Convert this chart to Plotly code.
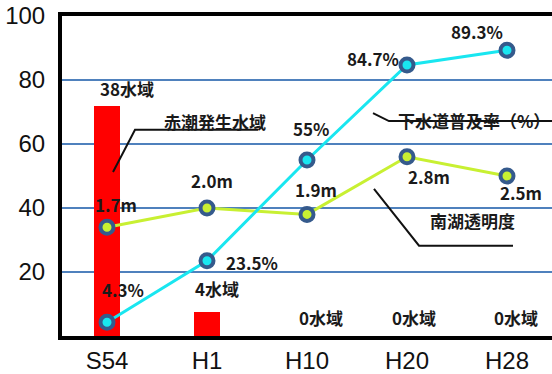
import plotly.graph_objects as go

categories = ["S54", "H1", "H10", "H20", "H28"]
red_tide_areas = [38, 4, 0, 0, 0]          # 赤潮発生水域 (number of areas)
sewer_rate = [4.3, 23.5, 55, 84.7, 89.3]   # 下水道普及率 (%)
clarity_m = [1.7, 2.0, 1.9, 2.8, 2.5]      # 南湖透明度 (m)
y_ticks = [20, 40, 60, 80, 100]

FONT = "Noto Sans CJK JP"
CYAN = "#19e6f0"
LIME = "#c8f032"
RING = "#355a8c"

RT_MAX = 38 / 0.72          # bar axis range so 38 areas sits at ~72% height
scale = RT_MAX / 100.0      # left tick labels (0-100) drawn on the bar axis

PT, PB, PL, PR = 16, 342, 62, 552

fig = go.Figure()

fig.add_trace(go.Bar(
    x=categories, y=red_tide_areas, yaxis="y",
    marker=dict(color="#ff0000", line=dict(width=0)), width=0.26,
    hoverinfo="skip", showlegend=False))

fig.add_trace(go.Scatter(
    x=categories, y=clarity_m, yaxis="y2", mode="lines+markers",
    line=dict(color=LIME, width=3),
    marker=dict(size=13, color=LIME, line=dict(color=RING, width=4)),
    showlegend=False))

fig.add_trace(go.Scatter(
    x=categories, y=sewer_rate, yaxis="y3", mode="lines+markers",
    line=dict(color=CYAN, width=3),
    marker=dict(size=13, color=CYAN, line=dict(color=RING, width=4)),
    showlegend=False))

ann = []
lab_font = dict(family=FONT, size=17, color="#1a1a1a")

sew_shift = [(16, 33), (45, -2), (4, 32), (-34, 6), (-30, 19)]
for c, v, (dx, dy) in zip(categories, sewer_rate, sew_shift):
    ann.append(dict(x=c, y=v, xref="x", yref="y3", text=f"<b>{v:g}%</b>",
                    showarrow=False, xshift=dx, yshift=dy, font=lab_font))

cl_shift = [(9, 23), (5, 28), (9, 25), (22, -20), (14, -16)]
for c, v, (dx, dy) in zip(categories, clarity_m, cl_shift):
    ann.append(dict(x=c, y=v, xref="x", yref="y2", text=f"<b>{v:.1f}m</b>",
                    showarrow=False, xshift=dx, yshift=dy, font=lab_font))

rt_shift = [(20, 17), (10, 23), (14, 19), (7, 19), (9, 19)]
for c, v, (dx, dy) in zip(categories, red_tide_areas, rt_shift):
    ann.append(dict(x=c, y=v, xref="x", yref="y", text=f"<b>{v}水域</b>",
                    showarrow=False, xshift=dx, yshift=dy, font=lab_font))


def px(x, y):
    return (x - PL) / (PR - PL), (PB - y) / (PB - PT)


for text, (x, y), anchor in [
    ("赤潮発生水域", (215, 109), "center"),
    ("下水道普及率（%）", (396, 108), "left"),
    ("南湖透明度", (472, 239), "center"),
]:
    xp, yp = px(x, y)
    ann.append(dict(x=xp, y=yp, xref="paper", yref="paper", text=f"<b>{text}</b>",
                    showarrow=False, xanchor=anchor, font=lab_font))

fig.update_layout(annotations=ann)

shapes = []
for pts in [
    [(113, 175), (135, 132), (258, 132)],
    [(373, 115), (389, 123), (560, 123)],
    [(374, 192), (419, 250), (513, 250)],
]:
    path = "M " + " L ".join(f"{px(x, y)[0]:.4f},{px(x, y)[1]:.4f}" for x, y in pts)
    shapes.append(dict(type="path", path=path, xref="paper", yref="paper",
                       line=dict(color="#111111", width=2)))
fig.update_layout(shapes=shapes)

fig.update_layout(
    width=552, height=374,
    margin=dict(l=PL, r=0, t=PT, b=374 - PB),
    paper_bgcolor="white", plot_bgcolor="white",
    bargap=0,
    xaxis=dict(type="category", range=[-0.45, 4.45],
               showline=True, mirror=True, linecolor="black", linewidth=4,
               showgrid=False, ticks="", zeroline=False,
               tickfont=dict(family="Liberation Sans", size=24, color="#111")),
    yaxis=dict(range=[0, RT_MAX],
               tickvals=[t * scale for t in y_ticks], ticktext=[str(t) for t in y_ticks],
               showline=True, linecolor="black", linewidth=4,
               showgrid=True, gridcolor="#4f81bd", gridwidth=2,
               zeroline=False, ticks="", ticklabelstandoff=8,
               tickfont=dict(family="Liberation Sans", size=24, color="#111")),
    yaxis2=dict(range=[0, 5], overlaying="y", visible=False),
    yaxis3=dict(range=[0, 100], overlaying="y", visible=False),
)

fig.write_html("out.html")
